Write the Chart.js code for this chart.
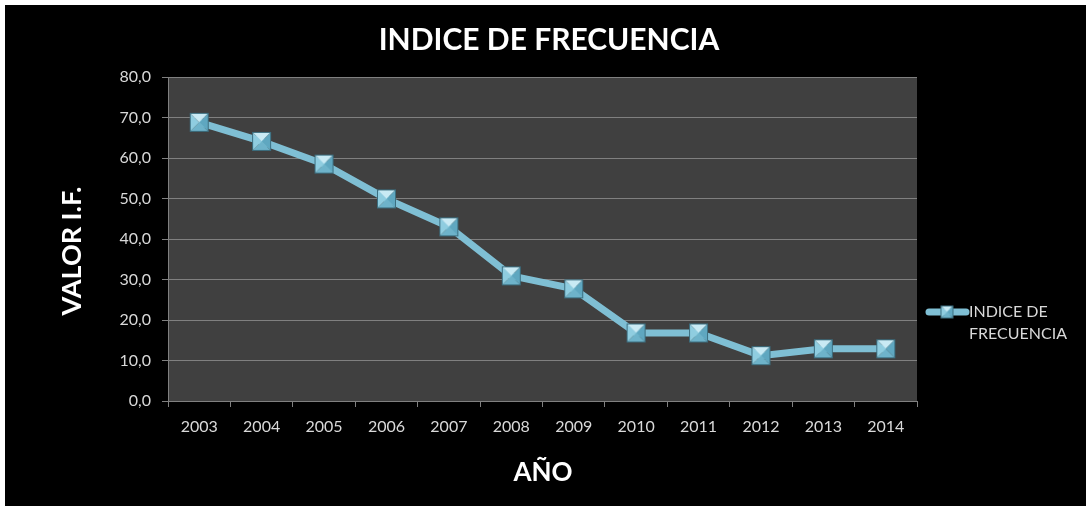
<!DOCTYPE html>
<html>
<head>
<meta charset="utf-8">
<script src="https://cdn.jsdelivr.net/npm/chart.js@4/dist/chart.umd.min.js"></script>
<style>
  html, body { margin: 0; padding: 0; background: #ffffff; overflow: hidden; }
  #wrap { position: absolute; left: 5px; top: 5px; width: 1120px; height: 540px; background: #000000; }
  #chart { display: block; }
</style>
</head>
<body>
<div id="wrap"><canvas id="chart" width="1081" height="501"></canvas></div>
<script>
// data
const years = ["2003", "2004", "2005", "2006", "2007", "2008", "2009", "2010", "2011", "2012", "2013", "2014"];
const indiceFrecuencia = [68.8, 64.1, 58.5, 49.9, 43.0, 30.9, 27.7, 16.8, 16.8, 11.2, 12.9, 12.9];
const yTicks = [0, 10, 20, 30, 40, 50, 60, 70, 80];

const chartTitle = "INDICE DE FRECUENCIA";
const yTitle = "VALOR I.F.";
const xTitle = "AÑO";
const legendLines = ["INDICE DE", "FRECUENCIA"];

const FONT = "Lato, 'Open Sans', sans-serif";
const LINE_COLOR = "#7fbfd4";

// beveled square marker, like the office "pyramid" markers
function makeMarker(side) {
	const c = document.createElement("canvas");
	const pad = 2;
	c.width = side + pad * 2;
	c.height = side + pad * 2;
	const g = c.getContext("2d");
	const x0 = pad, y0 = pad, x1 = pad + side, y1 = pad + side;
	const cx = (x0 + x1) / 2, cy = (y0 + y1) / 2;
	const tri = (ax, ay, bx, by, col) => {
		g.beginPath();
		g.moveTo(ax, ay);
		g.lineTo(bx, by);
		g.lineTo(cx, cy);
		g.closePath();
		g.fillStyle = col;
		g.fill();
	};
	tri(x0, y0, x1, y0, "#c9eaf4"); // top
	tri(x1, y0, x1, y1, "#5fa7c0"); // right
	tri(x1, y1, x0, y1, "#6eb3ca"); // bottom
	tri(x0, y1, x0, y0, "#8fcde0"); // left
	g.strokeStyle = "#3c6f80";
	g.lineWidth = 1;
	g.strokeRect(x0 + 0.5, y0 + 0.5, side - 1, side - 1);
	return c;
}

const bigMarker = makeMarker(19);
const smallMarker = makeMarker(13);

const layoutPlugin = {
	id: "layoutPlugin",
	beforeDraw(chart) {
		const { ctx, chartArea: a } = chart;
		ctx.save();
		ctx.fillStyle = "#404040";
		ctx.fillRect(a.left, a.top, a.right - a.left, a.bottom - a.top);
		ctx.restore();
	},
	afterDraw(chart) {
		const ctx = chart.ctx;
		ctx.save();
		ctx.fillStyle = "#ffffff";
		ctx.textAlign = "center";
		ctx.textBaseline = "middle";

		// title
		ctx.font = "bold 30px " + FONT;
		ctx.fillText(chartTitle, 544, 35);

		// x axis title
		ctx.font = "bold 26px " + FONT;
		ctx.fillText(xTitle, 538, 468);

		// y axis title
		ctx.save();
		ctx.translate(67, 246);
		ctx.rotate(-Math.PI / 2);
		ctx.font = "bold 27px " + FONT;
		ctx.fillText(yTitle, 0, 0);
		ctx.restore();

		// legend
		const ly = 307;
		ctx.strokeStyle = LINE_COLOR;
		ctx.lineWidth = 7;
		ctx.lineCap = "round";
		ctx.beginPath();
		ctx.moveTo(924, ly);
		ctx.lineTo(961, ly);
		ctx.stroke();
		ctx.drawImage(smallMarker, 942 - smallMarker.width / 2, ly - smallMarker.height / 2);
		ctx.fillStyle = "#d9d9d9";
		ctx.textAlign = "left";
		ctx.font = "16px " + FONT;
		ctx.fillText(legendLines[0], 964, ly);
		ctx.fillText(legendLines[1], 964, ly + 22);
		ctx.restore();
	}
};

new Chart(document.getElementById("chart"), {
	type: "line",
	data: {
		labels: years,
		datasets: [{
			label: "INDICE DE FRECUENCIA",
			data: indiceFrecuencia,
			borderColor: LINE_COLOR,
			borderWidth: 7,
			pointStyle: bigMarker,
			tension: 0,
			clip: false
		}]
	},
	options: {
		responsive: false,
		animation: false,
		layout: { padding: { left: 0, right: 169, top: 72, bottom: 0 } },
		plugins: {
			legend: { display: false },
			title: { display: false },
			tooltip: { enabled: false }
		},
		scales: {
			x: {
				offset: true,
				grid: {
					offset: true,
					drawOnChartArea: false,
					color: "#808080",
					tickLength: 6
				},
				border: { color: "#808080" },
				ticks: {
					color: "#d9d9d9",
					font: { family: FONT, size: 16 },
					padding: 10,
					maxRotation: 0
				},
				afterFit(scale) { scale.height = 105; }
			},
			y: {
				min: 0,
				max: 80,
				afterBuildTicks(scale) { scale.ticks = yTicks.map(v => ({ value: v })); },
				grid: {
					color: "#808080",
					tickLength: 6
				},
				border: { color: "#808080" },
				ticks: {
					color: "#d9d9d9",
					font: { family: FONT, size: 16 },
					padding: 11,
					callback: v => v.toFixed(1).replace(".", ",")
				},
				afterFit(scale) { scale.width = 163; }
			}
		}
	},
	plugins: [layoutPlugin]
});
</script>
</body>
</html>
